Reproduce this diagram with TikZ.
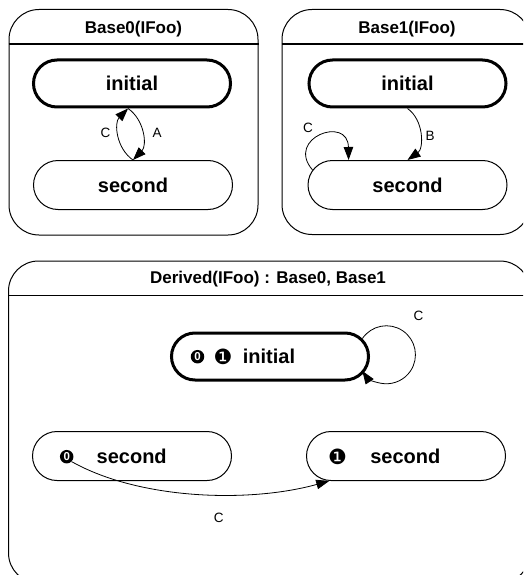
\documentclass[tikz,border=0pt]{standalone}
\usepackage{fontspec}
\setmainfont{Liberation Sans}
\newfontfamily\markfont{DejaVu Sans}
\usetikzlibrary{shapes.misc,arrows.meta}

\begin{document}
\begin{tikzpicture}[x=1pt,y=1pt,
  box/.style={draw, line width=1pt, rounded corners=30pt, inner sep=0pt},
  sepline/.style={line width=1.3pt},
  title/.style={font=\bfseries\fontsize{17}{17}\selectfont, inner sep=0pt, anchor=base},
  state/.style={draw, rounded rectangle, line width=1pt, minimum width=199pt,
    minimum height=49pt, inner sep=0pt, font=\bfseries\fontsize{20}{20}\selectfont},
  initstate/.style={state, line width=3pt, minimum width=197pt, minimum height=47pt},
  word/.style={font=\bfseries\fontsize{20}{20}\selectfont, inner sep=0pt},
  regionmark/.style={font=\markfont\fontsize{21}{21}\selectfont, inner sep=0pt},
  zeromark/.style={circle, fill=black, text=white, inner sep=0pt, minimum size=13.5pt,
    font=\bfseries\fontsize{11.5}{11.5}\selectfont},
  lbl/.style={font=\fontsize{13.5}{13.5}\selectfont, inner sep=0pt},
  trans/.style={line width=0.8pt, -{Triangle[length=13pt,width=9.5pt]}},
]
\useasboundingbox (0,0) rectangle (523,-575);
\clip (0,0) rectangle (523,-575);

% ---- Base0 -------------------------------------------------------
\node[box, minimum width=249pt, minimum height=225.5pt] (b0box) at (133.5,-122.25) {};
\draw[sepline] (b0box.west |- 0,-44) -- (b0box.east |- 0,-44);
\node[title] (b0title) at (133.5,-33.5) {Base0(IFoo)};
\node[initstate] (b0init) at (132,-83.5) {initial};
\node[state] (b0sec) at (133,-185) {second};
\draw[trans] (b0init.261) to[bend left=50] (b0sec.north);
\draw[trans] (b0sec.north) to[bend left=50] (b0init.261);
\node[lbl] (b0c) at (105.5,-132.5) {C};
\node[lbl] (b0a) at (157,-132.5) {A};

% ---- Base1 -------------------------------------------------------
\node[box, minimum width=248pt, minimum height=225pt] (b1box) at (406,-122) {};
\draw[sepline] (b1box.west |- 0,-44) -- (b1box.east |- 0,-44);
\node[title] (b1title) at (407,-33.5) {Base1(IFoo)};
\node[initstate] (b1init) at (407.5,-83.5) {initial};
\node[state] (b1sec) at (407.5,-185) {second};
\draw[trans] (b1init.south) to[bend left=55] (b1sec.north);
\draw[trans] (b1sec.171) .. controls (285,-138) and (348,-115) .. (b1sec.157);
\node[lbl] (b1b) at (430,-136) {B};
\node[lbl] (b1c) at (308,-127.5) {C};

% ---- Derived -----------------------------------------------------
\node[box, minimum width=521.5pt, minimum height=322pt] (dbox) at (269.25,-422) {};
\draw[sepline] (dbox.west |- 0,-295.5) -- (dbox.east |- 0,-295.5);
\node[title] (dtitle) at (268,-283.5) {Derived(IFoo) : Base0, Base1};

\node[initstate] (dinit) at (270,-356.5) {};
\node[zeromark] (dinitm0) at (197.5,-356.7) {0};
\node[regionmark] (dinitm1) at (223,-356.7) {❶};
\node[word] (dinitw) at (269,-356.5) {initial};

\node[state] (d0sec) at (132,-456) {};
\node[zeromark] (d0m) at (66.7,-456.7) {0};
\node[word] (d0w) at (131.7,-456) {second};

\node[state] (d1sec) at (406,-456) {};
\node[regionmark] (d1m) at (337.5,-456.7) {❶};
\node[word] (d1w) at (405.3,-456) {second};

\draw[trans] (dinit.11) arc[start angle=146, end angle=-146, radius=29];
\node[lbl] (dloopc) at (418.5,-316) {C};

\draw[trans] (d0m.-45) .. controls (140,-500) and (250,-503) .. (d1sec.198);
\node[lbl] (dcurvec) at (218.7,-518) {C};
\end{tikzpicture}
\end{document}
